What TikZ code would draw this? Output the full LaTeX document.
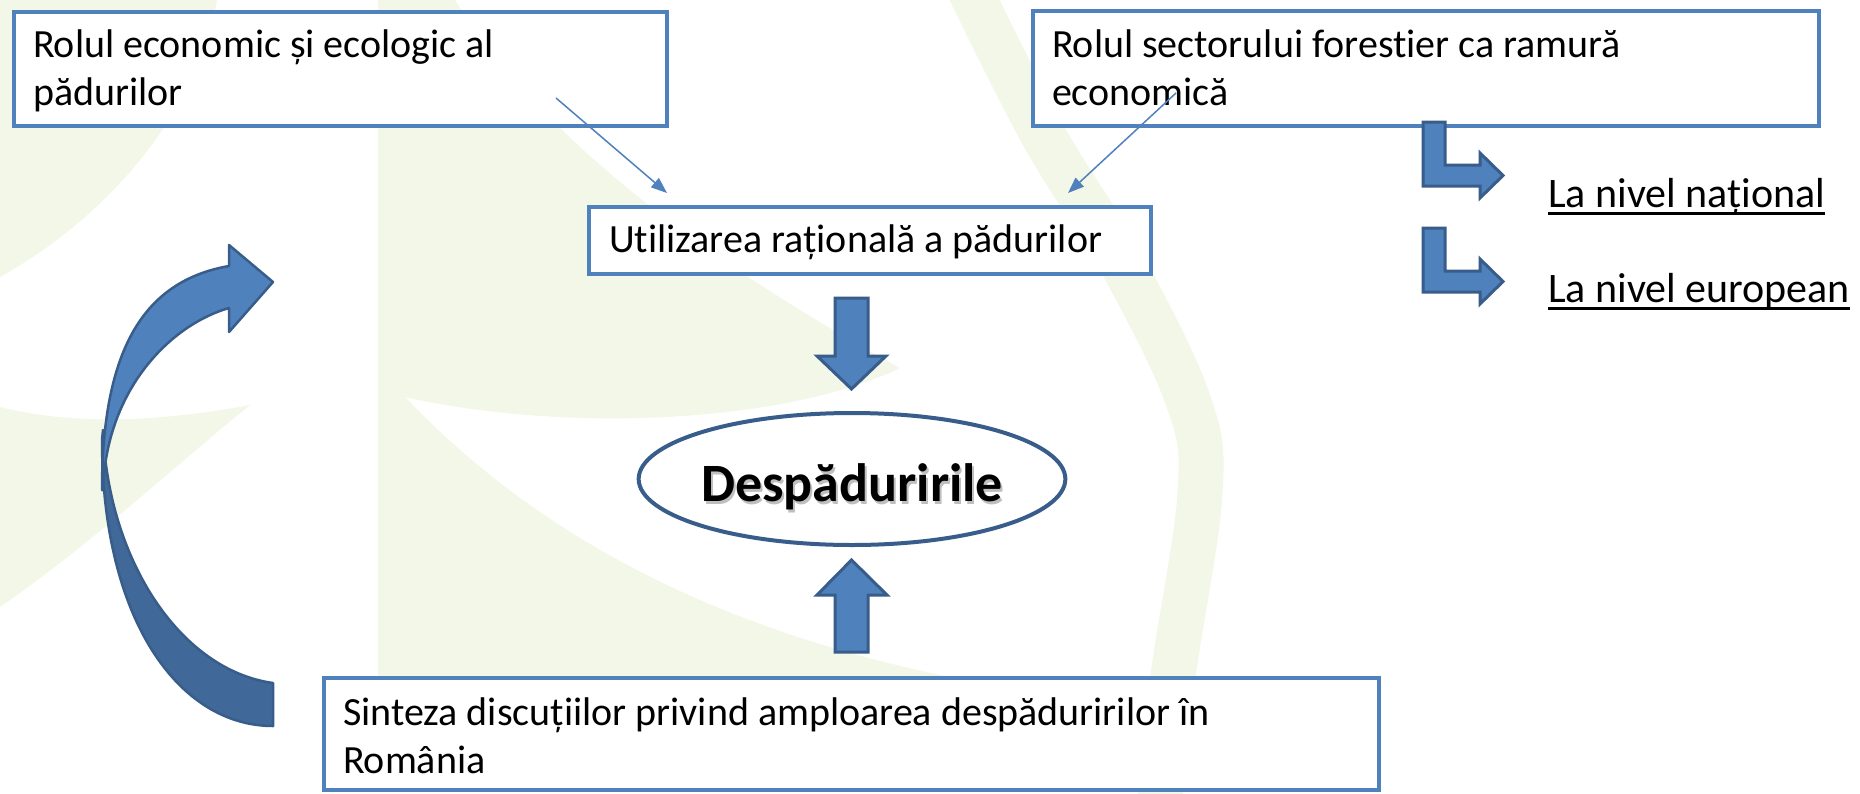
\documentclass[tikz,border=0pt]{standalone}
\usepackage{fontspec}
\setmainfont{Carlito}[Ligatures=NoCommon]
\usetikzlibrary{arrows.meta,shapes.geometric}
\definecolor{bgtint}{RGB}{243,247,231}
\definecolor{boxblue}{RGB}{79,129,189}
\definecolor{darkblue}{RGB}{56,93,138}
\definecolor{backblue}{RGB}{64,104,152}
\newcommand\myul[1]{\setbox0\hbox{#1}\rlap{\rule[-7.5pt]{\wd0}{2.5pt}}\box0}
\begin{document}
\begin{tikzpicture}[x=1pt,y=-1pt,
  textbox/.style={draw=boxblue, line width=4.5pt, fill=white, rectangle, inner ysep=0pt,
    align=left, font=\fontsize{40}{48}\selectfont,
    execute at begin node={\spaceskip=0pt\xspaceskip=0pt\relax}},
  blk/.style={fill=boxblue, draw=darkblue, line width=3pt, line join=miter},
  pointer/.style={draw=boxblue, line width=1.5pt, -{Triangle[length=16pt,width=12pt]}},
  lvl/.style={anchor=base west, inner sep=0pt, font=\fontsize{42}{50}\selectfont},
]
\useasboundingbox (0,0) rectangle (1860,793);
\fill[white] (0,0) rectangle (1860,793);
% background decoration
\fill[bgtint] (0,0) -- (217,0) .. controls (200,100) and (120,210) .. (0,277) -- cycle;
\fill[bgtint] (0,407) .. controls (80,427) and (170,420) .. (250,405)
  .. controls (170,470) and (90,545) .. (0,607) -- cycle;
\fill[bgtint] (378,0) -- (455,0) .. controls (540,140) and (720,270) .. (900,368)
  .. controls (780,425) and (560,432) .. (405,397)
  .. controls (560,560) and (760,640) .. (965,680) -- (378,680) -- cycle;
\draw[bgtint, line width=45pt] plot[smooth, tension=0.6] coordinates
  {(960,-30) (1042,133) (1120,260) (1188,400) (1200,493) (1173,676) (1160,800)};
% curved arrow
\filldraw[fill=backblue, draw=darkblue, line width=2.5pt, line join=round]
  (273,726) .. controls (179,726) and (102,620) .. (102,440) -- (103,430)
  .. controls (108,560) and (180,670) .. (273,683) -- cycle;
\filldraw[fill=boxblue, draw=darkblue, line width=2.5pt, line join=round]
  (102,490) .. controls (102,340) and (150,280) .. (229,266) -- (229,245) -- (273,282)
  -- (229,332) -- (229,308) .. controls (170,325) and (106,390) .. (103,490) -- cycle;
% boxes
\node[textbox, minimum width=653pt, minimum height=114pt, inner xsep=19pt, text width=615pt,
  text height=30pt, text depth=54pt] (boxA) at (340.5,69) {Rolul economic și ecologic al\\pădurilor};
\node[textbox, minimum width=786pt, minimum height=115pt, inner xsep=19pt, text width=748pt,
  text height=30pt, text depth=53pt] (boxB) at (1426,68.5) {Rolul sectorului forestier ca ramură\\economică};
\node[textbox, minimum width=562pt, minimum height=67pt, inner xsep=20pt, text width=522pt,
  text height=30pt, text depth=7pt] (boxC) at (870,240.5) {Utilizarea rațională a pădurilor};
\node[textbox, minimum width=1055pt, minimum height=112pt, inner xsep=19pt, text width=1017pt,
  text height=30pt, text depth=48pt] (boxD) at (851.5,734) {Sinteza discuțiilor privind amploarea despăduririlor în\\România};
% thin arrows
\coordinate (a1s) at (556,98);
\coordinate (a1e) at (667,193);
\coordinate (a2s) at (1176,93);
\coordinate (a2e) at (1068,193);
\draw[pointer] (a1s) -- (a1e);
\draw[pointer] (a2s) -- (a2e);
% block arrows
\draw[blk] (835,298) -- (868,298) -- (868,356) -- (886,356) -- (851.5,389) -- (817,356) -- (835,356) -- cycle;
\draw[blk] (835,652) -- (868,652) -- (868,595) -- (887,595) -- (851.5,560) -- (817,595) -- (835,595) -- cycle;
% bent arrows
\draw[blk] (1423,122) -- (1445,122) -- (1445,165) -- (1480,165) -- (1480,153) -- (1503,175.5)
  -- (1480,198) -- (1480,186) -- (1423,186) -- cycle;
\draw[blk] (1423,228) -- (1445,228) -- (1445,271) -- (1480,271) -- (1480,259) -- (1503,281.5)
  -- (1480,304) -- (1480,292) -- (1423,292) -- cycle;
% ellipse
\node[ellipse, draw=darkblue, line width=4pt, fill=white, minimum width=400pt, minimum height=132pt,
  inner sep=0pt, text height=50pt, text depth=6pt, font=\bfseries\fontsize{54}{60}\selectfont]
  (desp) at (852,479)
  {\makebox[0pt][l]{\hspace*{2pt}\raisebox{-3pt}{\textcolor{black!25}{Despăduririle}}}Despăduririle};
% level labels
\node[lvl] (nat) at (1548,207) {\myul{La nivel național}};
\node[lvl] (eur) at (1548,302) {\myul{La nivel european}};
\end{tikzpicture}
\end{document}
